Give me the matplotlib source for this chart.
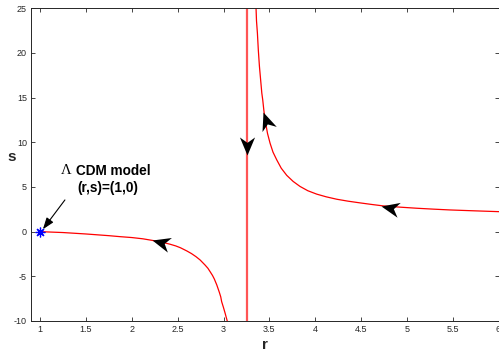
import numpy as np
import matplotlib
matplotlib.use("Agg")
import matplotlib.pyplot as plt
from matplotlib.path import Path
from matplotlib.markers import MarkerStyle
from matplotlib.transforms import Affine2D

# ---- data ----
left_r = [1.0, 1.25, 1.5, 1.75, 1.872, 2.0, 2.12, 2.236, 2.33, 2.418, 2.48, 2.53, 2.60,
          2.65, 2.70, 2.745, 2.80, 2.83, 2.854, 2.88, 2.90, 2.927, 2.955, 2.97, 2.98,
          3.0, 3.018, 3.03, 3.043, 3.05]
left_s = [0.0, -0.1, -0.26, -0.45, -0.56, -0.66, -0.8, -1.0, -1.18, -1.41, -1.6, -1.8,
          -2.16, -2.45, -2.8, -3.17, -3.75, -4.1, -4.48, -4.9, -5.3, -5.97, -6.8,
          -7.3, -7.84, -8.5, -9.14, -9.6, -10.08, -10.5]

right_r = [3.345, 3.355, 3.36, 3.37, 3.38, 3.392, 3.405, 3.418, 3.428, 3.44, 3.454,
           3.48, 3.508, 3.54, 3.581, 3.63, 3.69, 3.76, 3.835, 3.92, 4.017, 4.12,
           4.235, 4.36, 4.49, 4.62, 4.745, 4.93, 5.11, 5.29, 5.47, 5.74, 6.0]
right_s = [26.0, 25.0, 23.6, 22.2, 20.3, 18.5, 17.0, 15.5, 14.75, 13.6, 12.5,
           11.0, 9.9, 8.9, 8.03, 7.1, 6.3, 5.62, 5.06, 4.58, 4.2, 3.9,
           3.63, 3.41, 3.22, 3.04, 2.88, 2.74, 2.62, 2.52, 2.43, 2.33, 2.24]

asym_r = [3.254, 3.254]
asym_s = [-10.0, 25.0]

# direction arrows: tip and a point behind the tip
arrow_tip_r = [2.218, 3.435, 3.254, 4.715]
arrow_tip_s = [-0.93, 13.4, 8.6, 2.92]
arrow_tail_r = [2.377, 3.486, 3.254, 4.868]
arrow_tail_s = [-1.38, 11.95, 10.3, 2.58]

lcdm_r, lcdm_s = [1.0], [0.0]

x_ticks = [1, 1.5, 2, 2.5, 3, 3.5, 4, 4.5, 5, 5.5, 6]
x_ticklabels = ["1", "1.5", "2", "2.5", "3", "3.5", "4", "4.5", "5", "5.5", "6"]
y_ticks = [-10, -5, 0, 5, 10, 15, 20, 25]
y_ticklabels = ["-10", "-5", "0", "5", "10", "15", "20", "25"]

# ---- figure ----
plt.rcParams['font.family'] = ['Liberation Sans', 'DejaVu Sans']
fig = plt.figure(figsize=(4.99, 3.56), dpi=100)
ax = fig.add_axes([31 / 499, 35 / 356, 467.5 / 499, 312.7 / 356])
ax.set_xlim(0.9, 6.0)
ax.set_ylim(-10, 25)

ax.plot(left_r, left_s, color='red', lw=0.9, zorder=2)
ax.plot(right_r, right_s, color='red', lw=0.9, zorder=2)
ax.plot(asym_r, asym_s, color='#ff5555', lw=1.6, zorder=2)

ax.plot(lcdm_r, lcdm_s, linestyle='none', marker=(8, 2, 0), color='blue',
        markersize=7, markeredgewidth=0.9, zorder=4)

# stealth arrowheads
verts = [(0, 0), (-1, 0.42), (-0.7, 0), (-1, -0.42), (0, 0)]
codes = [Path.MOVETO, Path.LINETO, Path.LINETO, Path.LINETO, Path.CLOSEPOLY]
head = Path(verts, codes)
for tr, ts, br, bs in zip(arrow_tip_r, arrow_tip_s, arrow_tail_r, arrow_tail_s):
    p1 = ax.transData.transform((tr, ts))
    p0 = ax.transData.transform((br, bs))
    ang = np.degrees(np.arctan2(p1[1] - p0[1], p1[0] - p0[0]))
    m = MarkerStyle(head, transform=Affine2D().rotate_deg(ang))
    ax.plot([tr], [ts], linestyle='none', marker=m, markersize=26,
            color='black', markeredgewidth=0, zorder=5)

# annotation
ax.text(1.34, 6.83, "Λ", family='Liberation Serif', fontsize=10.5,
        ha='right', va='center', color='black')
ax.text(1.395, 6.83, "CDM model", fontweight='bold', fontsize=9.8,
        ha='left', va='center', color='black')
ax.text(1.736, 4.86, "(r,s)=(1,0)", fontweight='bold', fontsize=9.8,
        ha='center', va='center', color='black')
ax.annotate('', xy=(1.03, 0.27), xytext=(1.27, 3.55),
            arrowprops=dict(arrowstyle='-|>,head_length=0.7,head_width=0.25',
                            lw=0.8, color='black', shrinkA=0, shrinkB=0))

# axes styling
ax.set_xticks(x_ticks)
ax.set_xticklabels(x_ticklabels)
ax.set_yticks(y_ticks)
ax.set_yticklabels(y_ticklabels)
ax.tick_params(direction='in', length=3, width=0.6, colors='#262626',
               labelsize=6.5, top=True, right=True, pad=3)
for sp in ax.spines.values():
    sp.set_color('#262626')
    sp.set_linewidth(0.7)

ax.set_xlabel('r', fontweight='bold', fontsize=11, color='#262626', va='center')
ax.set_ylabel('s', fontweight='bold', fontsize=11, color='#262626', rotation=0,
              va='center', ha='center')
ax.xaxis.set_label_coords(0.5, -0.078)
ax.yaxis.set_label_coords(-0.041, 0.525)

fig.savefig('out.png', dpi=100)
